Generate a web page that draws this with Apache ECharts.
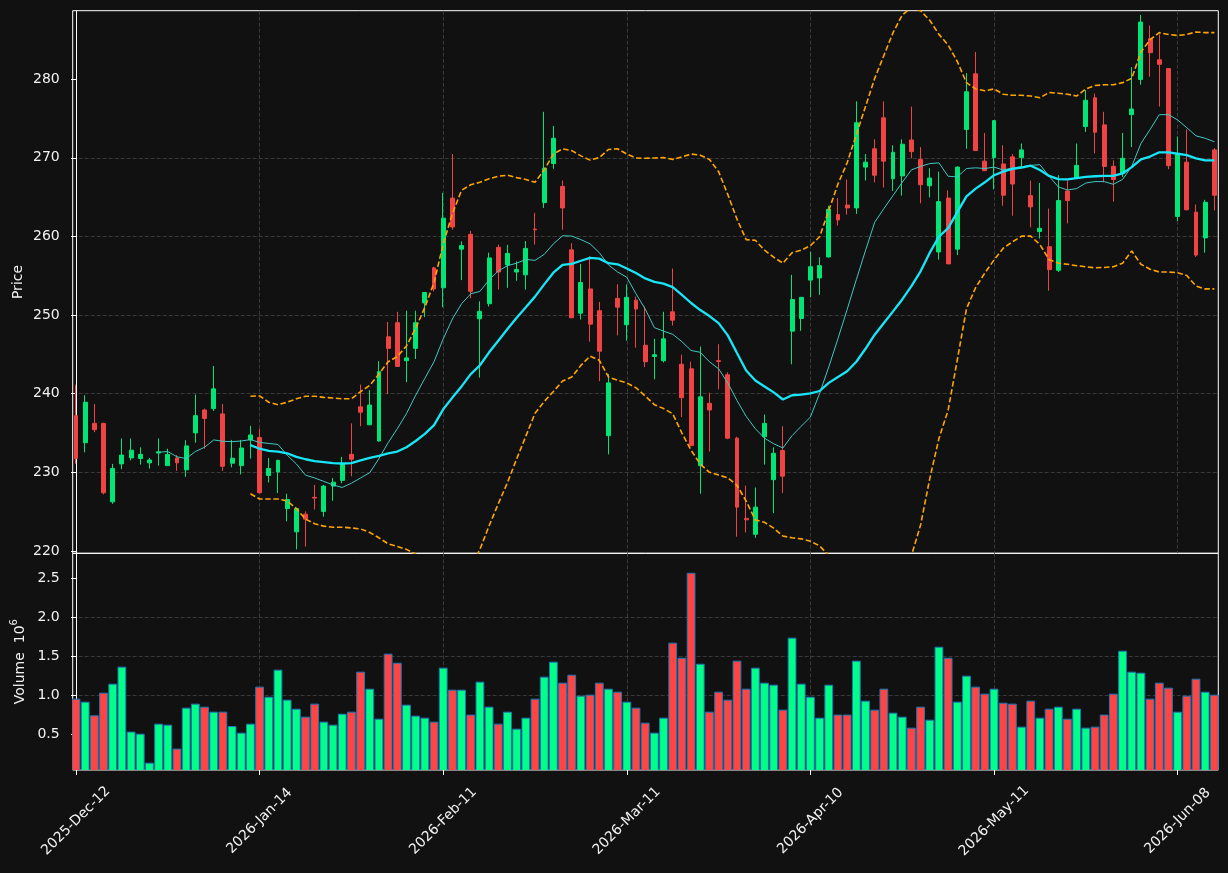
<!DOCTYPE html>
<html>
<head>
<meta charset="utf-8">
<script src="https://cdn.jsdelivr.net/npm/echarts@6/dist/echarts.min.js"></script>
<style>
  html, body { margin: 0; padding: 0; background: #111111; }
  #chart { width: 1228px; height: 873px; }
</style>
</head>
<body>
<div id="chart"></div>
<script>
// tick labels every 20 sessions
const tickLabels = ['2025-Dec-12', '2026-Jan-14', '2026-Feb-11', '2026-Mar-11', '2026-Apr-10', '2026-May-11', '2026-Jun-08'];
const tickStep = 20;

const opens = [237.2, 233.76, 236.22, 236.22, 226.24, 231.07, 231.83, 231.75, 231.2, 232.45,
  230.85, 231.83, 230.31, 235.01, 237.92, 238.1, 237.43, 231.16, 230.85, 234.12,
  234.43, 229.6, 230.04, 225.39, 222.43, 224.67, 226.82, 225.03, 228.25, 228.97,
  232.28, 238.33, 236.04, 233.98, 247.23, 249.02, 244.19, 245.76, 251.53, 256.0,
  253.46, 264.87, 258.38, 260.26, 249.52, 251.44, 258.6, 256.37, 255.47, 255.11,
  260.93, 264.29, 269.26, 266.35, 258.29, 250.23, 253.32, 250.55, 234.66, 252.11,
  248.76, 251.89, 246.16, 244.73, 244.19, 250.41, 243.74, 243.16, 230.85, 238.77,
  244.19, 242.4, 234.34, 224.14, 222.12, 234.52, 229.06, 232.77, 247.95, 249.56,
  254.44, 254.71, 257.39, 262.77, 263.98, 263.62, 268.81, 271.14, 275.08, 267.33,
  267.69, 272.26, 269.79, 266.44, 258.02, 264.87, 258.38, 273.6, 280.67, 269.57,
  270.02, 269.21, 270.11, 270.02, 265.18, 260.62, 258.69, 255.69, 265.77, 267.47,
  273.96, 277.63, 274.18, 268.9, 268.0, 275.48, 279.96, 285.15, 282.46, 281.34,
  262.54, 269.44, 263.08, 259.81, 271.0];

const closes = [231.75, 238.91, 235.42, 227.4, 230.49, 232.19, 232.82, 232.28, 231.57, 232.6,
  232.28, 231.2, 233.36, 237.2, 236.85, 240.61, 230.76, 231.79, 233.09, 234.75,
  227.4, 230.49, 231.52, 226.55, 225.39, 224.04, 226.72, 228.25, 228.75, 231.07,
  231.66, 237.65, 238.55, 242.8, 245.76, 243.47, 244.55, 249.02, 252.87, 253.32,
  262.32, 261.2, 258.83, 253.01, 250.46, 257.26, 255.47, 257.84, 255.78, 258.47,
  260.84, 268.67, 272.48, 263.62, 249.65, 254.13, 248.84, 245.4, 241.37, 251.0,
  252.25, 250.77, 244.06, 244.95, 246.97, 249.34, 239.49, 233.4, 239.6, 237.92,
  244.1, 234.34, 225.57, 223.96, 225.57, 236.22, 232.42, 229.51, 251.98, 252.25,
  256.14, 256.28, 263.44, 262.09, 263.62, 274.45, 269.44, 267.78, 269.57, 270.69,
  271.72, 270.78, 266.57, 267.42, 264.42, 256.5, 268.81, 278.39, 270.91, 268.36,
  274.72, 265.23, 266.66, 271.0, 263.75, 261.02, 255.78, 264.56, 264.56, 269.03,
  277.31, 273.24, 268.9, 267.24, 269.93, 276.2, 287.25, 283.36, 281.88, 268.99,
  270.38, 263.39, 257.62, 264.33, 265.23];

const lows = [231.07, 232.55, 235.1, 227.18, 226.0, 230.4, 231.52, 230.98, 230.49, 230.85,
  230.85, 230.18, 229.42, 233.76, 233.0, 237.79, 230.18, 230.63, 229.73, 231.75,
  227.3, 228.7, 227.36, 223.78, 220.2, 220.56, 225.26, 224.36, 226.37, 228.61,
  229.51, 235.86, 236.0, 233.9, 239.94, 243.4, 241.46, 244.41, 249.74, 253.0,
  250.99, 260.84, 254.44, 252.11, 242.04, 251.08, 253.23, 253.46, 254.35, 253.23,
  258.96, 263.62, 268.59, 260.84, 249.6, 249.43, 246.61, 241.59, 232.28, 247.41,
  246.74, 245.85, 243.38, 241.82, 243.97, 248.67, 237.03, 233.3, 227.27, 232.64,
  240.56, 234.21, 221.81, 222.35, 221.67, 230.98, 224.81, 227.36, 243.74, 247.99,
  252.25, 252.56, 257.3, 261.38, 262.77, 262.86, 267.11, 266.88, 266.21, 265.77,
  265.18, 269.93, 264.2, 264.96, 257.04, 256.5, 257.62, 271.14, 270.9, 268.3,
  265.99, 263.89, 262.63, 268.9, 261.15, 259.72, 253.1, 255.47, 261.65, 267.33,
  273.29, 270.56, 266.88, 264.42, 267.56, 271.36, 279.28, 280.31, 276.51, 268.54,
  261.96, 263.3, 257.39, 257.93, 263.3];

const highs = [241.15, 239.8, 238.68, 236.3, 231.07, 234.3, 234.3, 233.18, 231.83, 234.3,
  233.0, 232.19, 234.07, 239.89, 238.1, 243.52, 238.68, 234.12, 234.12, 235.91,
  235.55, 231.83, 231.6, 227.27, 225.5, 225.03, 228.39, 228.4, 229.28, 231.97,
  236.22, 241.15, 240.47, 244.14, 249.11, 250.41, 250.55, 250.55, 252.9, 256.14,
  265.54, 270.47, 259.36, 260.71, 251.75, 257.93, 258.96, 258.92, 256.81, 259.41,
  262.99, 275.84, 274.05, 267.11, 259.14, 256.5, 257.48, 251.67, 242.49, 253.9,
  253.9, 252.34, 251.08, 246.97, 250.41, 255.92, 244.95, 244.06, 245.98, 240.12,
  246.29, 242.71, 234.52, 228.3, 228.07, 237.34, 233.18, 235.86, 255.11, 252.3,
  258.02, 257.35, 263.89, 264.87, 267.24, 277.18, 270.47, 272.35, 277.18, 271.58,
  272.35, 276.51, 271.36, 268.67, 268.23, 265.86, 268.9, 280.76, 283.45, 273.15,
  274.8, 271.58, 270.47, 271.81, 267.11, 266.79, 263.53, 267.78, 267.11, 271.81,
  278.61, 278.16, 275.84, 269.66, 273.15, 281.52, 288.15, 286.8, 285.68, 281.4,
  272.7, 273.6, 264.06, 264.65, 271.23];

// volume in millions
const volumes = [0.949, 0.91, 0.735, 1.026, 1.141, 1.359, 0.526, 0.5, 0.128, 0.628,
  0.615, 0.308, 0.833, 0.885, 0.846, 0.782, 0.782, 0.598, 0.513, 0.628,
  1.103, 0.974, 1.321, 0.936, 0.82, 0.718, 0.885, 0.654, 0.615, 0.756,
  0.782, 1.295, 1.077, 0.692, 1.526, 1.41, 0.872, 0.731, 0.705, 0.654,
  1.346, 1.064, 1.064, 0.744, 1.167, 0.846, 0.628, 0.782, 0.564, 0.705,
  0.949, 1.231, 1.423, 1.154, 1.256, 0.987, 1.0, 1.154, 1.077, 1.038,
  0.91, 0.833, 0.641, 0.513, 0.705, 1.667, 1.474, 2.564, 1.397, 0.782,
  1.038, 0.936, 1.436, 1.077, 1.346, 1.154, 1.128, 0.808, 1.731, 1.141,
  0.974, 0.705, 1.128, 0.744, 0.744, 1.436, 0.923, 0.808, 1.077, 0.769,
  0.718, 0.577, 0.846, 0.679, 1.615, 1.474, 0.91, 1.244, 1.103, 1.013,
  1.077, 0.897, 0.885, 0.59, 0.923, 0.705, 0.82, 0.846, 0.692, 0.82,
  0.577, 0.59, 0.744, 1.013, 1.564, 1.295, 1.282, 0.949, 1.154, 1.09,
  0.782, 0.987, 1.205, 1.038, 1.0];

const N = null;
const ma10 = [N, N, N, N, N, N, N, N, N, 232.55,
  232.64, 231.97, 231.75, 232.64, 233.18, 234.12, 233.94, 233.9, 233.98, 234.16,
  233.8, 233.67, 233.54, 232.19, 231.07, 229.64, 229.28, 228.84, 228.39, 228.07,
  228.61, 229.28, 229.96, 231.75, 233.76, 235.55, 237.47, 239.8, 241.95, 244.06,
  246.97, 249.5, 251.44, 252.7, 253.0, 254.48, 255.6, 256.28, 256.59, 257.08,
  256.95, 257.71, 259.05, 260.08, 260.04, 259.59, 259.05, 257.93, 256.37, 255.47,
  254.8, 252.7, 250.77, 248.4, 247.95, 247.55, 246.61, 245.49, 245.26, 244.06,
  243.16, 241.37, 239.13, 237.12, 235.55, 234.34, 233.63, 233.09, 234.66, 235.86,
  237.03, 240.03, 243.4, 247.0, 250.7, 254.5, 258.2, 261.8, 263.53, 265.2,
  266.88, 268.45, 268.9, 269.26, 269.35, 267.65, 267.56, 268.63, 268.72, 268.63,
  268.81, 268.45, 268.7, 268.85, 269.03, 269.12, 267.65, 266.3, 265.9, 266.08,
  266.79, 266.97, 266.97, 266.62, 267.24, 268.9, 271.81, 273.6, 275.48, 275.48,
  274.81, 273.82, 272.79, 272.48, 272.03];

const ma20 = [N, N, N, N, N, N, N, N, N, N, N, N, N, N, N, N, N, N, N, 233.45,
  233.0, 232.73, 232.64, 232.42, 231.97, 231.66, 231.43, 231.3, 231.16, 231.12,
  231.16, 231.52, 231.83, 232.1, 232.42, 232.64, 233.18, 233.98, 234.88, 236.0,
  238.01, 239.5, 240.92, 242.49, 243.61, 245.26, 246.74, 248.22, 249.65, 250.99,
  252.34, 253.9, 255.38, 256.37, 256.5, 256.9, 257.26, 257.17, 256.59, 256.45,
  255.92, 255.34, 254.66, 254.22, 253.99, 253.54, 252.56, 251.53, 250.63, 249.87,
  248.97, 247.41, 245.17, 242.94, 241.68, 240.92, 240.16, 239.26, 239.8, 239.89,
  240.03, 240.34, 241.37, 242.13, 242.85, 244.06, 245.71, 247.5, 248.98, 250.46,
  251.98, 253.68, 255.56, 257.93, 259.95, 261.06, 263.08, 265.09, 266.08, 266.88,
  267.78, 268.23, 268.59, 268.76, 268.99, 268.45, 267.69, 267.29, 267.24, 267.42,
  267.56, 267.65, 267.69, 267.69, 268.0, 268.81, 269.79, 270.15, 270.69, 270.69,
  270.51, 270.33, 269.93, 269.66, 269.66];

const bbUpper = [N, N, N, N, N, N, N, N, N, N, N, N, N, N, N, N, N, N, N, 239.67,
  239.71, 238.91, 238.59, 238.91, 239.35, 239.67, 239.67, 239.53, 239.44, 239.35,
  239.35, 240.25, 241.06, 242.5, 244.06, 244.73, 246.07, 248.31, 250.99, 254.13,
  259.05, 262.9, 265.86, 266.57, 266.88, 267.33, 267.65, 267.78, 267.47, 267.24,
  266.88, 268.45, 270.47, 271.14, 270.91, 270.24, 269.7, 270.02, 271.05, 271.14,
  270.47, 269.97, 269.93, 269.97, 270.02, 269.79, 270.11, 270.47, 270.33, 269.79,
  268.23, 265.32, 262.19, 259.59, 259.5, 258.25, 257.35, 256.59, 257.93, 258.25,
  258.83, 259.95, 263.3, 266.66, 269.35, 272.93, 276.51, 280.09, 283.0, 285.91,
  288.15, 289.1, 288.7, 287.48, 285.69, 284.34, 282.24, 279.55, 278.75, 278.52,
  278.75, 278.08, 277.94, 277.94, 277.85, 277.63, 278.3, 278.21, 278.08, 277.85,
  278.75, 279.19, 279.28, 279.28, 279.55, 280.09, 283.45, 285.01, 285.91, 285.68,
  285.55, 285.68, 286.0, 285.91, 285.91];

const bbLower = [N, N, N, N, N, N, N, N, N, N, N, N, N, N, N, N, N, N, N, 227.27,
  226.6, 226.6, 226.6, 226.37, 225.39, 224.04, 223.46, 223.15, 223.02, 223.02,
  222.93, 222.8, 222.35, 221.67, 220.91, 220.56, 220.2, 219.6, 218.77, 217.87,
  216.97, 216.1, 216.0, 218.0, 220.2, 223.2, 226.0, 228.7, 231.7, 234.6,
  237.5, 239.0, 240.27, 241.6, 242.11, 243.6, 244.78, 244.25, 242.13, 241.7,
  241.37, 240.75, 239.7, 238.6, 238.1, 237.45, 234.99, 232.8, 231.05, 230.0,
  229.65, 229.3, 228.35, 226.33, 223.95, 223.64, 222.9, 221.9, 221.67, 221.54,
  221.23, 220.65, 219.42, 217.6, 216.35, 215.2, 214.9, 214.9, 214.96, 215.0,
  215.8, 219.4, 223.3, 229.2, 234.3, 237.9, 244.3, 250.8, 253.5, 255.35,
  257.0, 258.5, 259.3, 260.03, 260.03, 258.96, 257.04, 256.59, 256.45, 256.27,
  256.14, 256.0, 256.05, 256.14, 256.59, 258.15, 256.45, 255.83, 255.47, 255.47,
  255.38, 255.02, 253.68, 253.32, 253.32];

const priceTicks = [220, 230, 240, 250, 260, 270, 280];
const volTicks = [0.5, 1.0, 1.5, 2.0, 2.5];

const candleUp = '#00e676';
const candleDown = '#f04444';
const volUp = '#00ff88';
const volDown = '#ff4444';
const volEdge = '#1f77b4';
const textColor = '#f2f2f2';
const fontFamily = 'DejaVu Sans';

const gridLine = { show: true, showMinLine: false, showMaxLine: false, lineStyle: { color: '#444444', type: [4, 2], width: 0.8 } };
const xTickValues = tickLabels.map((_, k) => k * tickStep);

const candles = opens.map((o, i) => [i, o, closes[i], lows[i], highs[i]]);
const volData = volumes.map((v, i) => [i, v]);
const toLine = arr => arr.map((v, i) => [i, v]);

const chart = echarts.init(document.getElementById('chart'));

const xBase = {
  type: 'value',
  min: -0.36,
  max: 124.43,
  minInterval: tickStep,
  maxInterval: tickStep,
  axisLine: { show: false },
  splitLine: gridLine
};

const lineSeries = (name, arr, style, z) => ({
  name: name,
  type: 'line',
  xAxisIndex: 0,
  yAxisIndex: 0,
  data: toLine(arr),
  showSymbol: false,
  symbol: 'none',
  lineStyle: style,
  z: z
});

chart.setOption({
  animation: false,
  backgroundColor: '#111111',
  textStyle: { fontFamily: fontFamily },
  grid: [
    { left: 72.7, top: 10.7, width: 1145.6, height: 542.6, show: true, borderColor: '#ffffff', borderWidth: 1, outerBoundsMode: 'none' },
    { left: 72.7, top: 553.3, width: 1145.6, height: 216.7, show: true, borderColor: '#ffffff', borderWidth: 1, outerBoundsMode: 'none' }
  ],
  xAxis: [
    Object.assign({}, xBase, {
      gridIndex: 0,
      axisTick: { show: false },
      axisLabel: { show: false }
    }),
    Object.assign({}, xBase, {
      gridIndex: 1,
      axisTick: { show: true, length: 5, customValues: xTickValues, lineStyle: { color: '#ffffff' } },
      axisLabel: {
        show: true,
        customValues: xTickValues,
        rotate: 45,
        align: 'center',
        verticalAlign: 'middle',
        margin: 51,
        color: textColor,
        fontSize: 14,
        fontFamily: fontFamily,
        formatter: v => tickLabels[Math.round(v / tickStep)] || ''
      }
    })
  ],
  yAxis: [
    {
      type: 'value',
      gridIndex: 0,
      min: 219.7,
      max: 288.7,
      minInterval: 10,
      maxInterval: 10,
      name: 'Price',
      nameLocation: 'middle',
      nameGap: 47,
      nameMoveOverlap: false,
      nameTextStyle: { color: textColor, fontSize: 14, fontFamily: fontFamily },
      axisLine: { show: true, lineStyle: { color: '#ffffff' } },
      axisTick: { show: true, length: 5, customValues: priceTicks, lineStyle: { color: '#ffffff' } },
      axisLabel: { customValues: priceTicks, color: textColor, fontSize: 14, margin: 13, fontFamily: fontFamily },
      splitLine: gridLine
    },
    {
      type: 'value',
      gridIndex: 1,
      min: 0.04,
      max: 2.82,
      minInterval: 0.5,
      maxInterval: 0.5,
      name: 'Volume  10{sup|6}',
      nameLocation: 'middle',
      nameGap: 41,
      nameMoveOverlap: false,
      nameTextStyle: {
        color: textColor, fontSize: 14, fontFamily: fontFamily, lineHeight: 22,
        rich: { sup: { fontSize: 10, color: textColor, fontFamily: fontFamily, verticalAlign: 'top', lineHeight: 12 } }
      },
      axisLine: { show: true, lineStyle: { color: '#ffffff' } },
      axisTick: { show: true, length: 5, customValues: volTicks, lineStyle: { color: '#ffffff' } },
      axisLabel: { customValues: volTicks, color: textColor, fontSize: 14, margin: 13, fontFamily: fontFamily, formatter: v => v.toFixed(1) },
      splitLine: gridLine
    }
  ],
  series: [
    {
      name: 'OHLC',
      type: 'candlestick',
      xAxisIndex: 0,
      yAxisIndex: 0,
      data: candles,
      encode: { x: 0, y: [1, 2, 3, 4] },
      barWidth: 4.4,
      itemStyle: {
        color: candleUp,
        color0: candleDown,
        borderColor: candleUp,
        borderColor0: candleDown,
        borderWidth: 1
      },
      z: 2
    },
    lineSeries('MA10', ma10, { color: '#40c8c0', width: 1 }, 3),
    lineSeries('MA20', ma20, { color: '#18e6f8', width: 2.3 }, 4),
    lineSeries('BB Upper', bbUpper, { color: '#ffa500', width: 1.6, type: [5.5, 2.6] }, 4),
    lineSeries('BB Lower', bbLower, { color: '#ffa500', width: 1.6, type: [5.5, 2.6] }, 4),
    {
      name: 'Volume',
      type: 'custom',
      xAxisIndex: 1,
      yAxisIndex: 1,
      data: volData,
      encode: { x: 0, y: 1 },
      clip: true,
      renderItem: (params, api) => {
        const i = api.value(0);
        const top = api.coord([i, api.value(1)]);
        const base = api.coord([i, 0]);
        const w = api.size([1, 0])[0] * 0.85;
        return {
          type: 'rect',
          shape: { x: top[0] - w / 2, y: top[1], width: w, height: base[1] - top[1] },
          style: {
            fill: closes[params.dataIndex] >= opens[params.dataIndex] ? volUp : volDown,
            stroke: volEdge,
            lineWidth: 1
          }
        };
      }
    }
  ]
});
</script>
</body>
</html>
